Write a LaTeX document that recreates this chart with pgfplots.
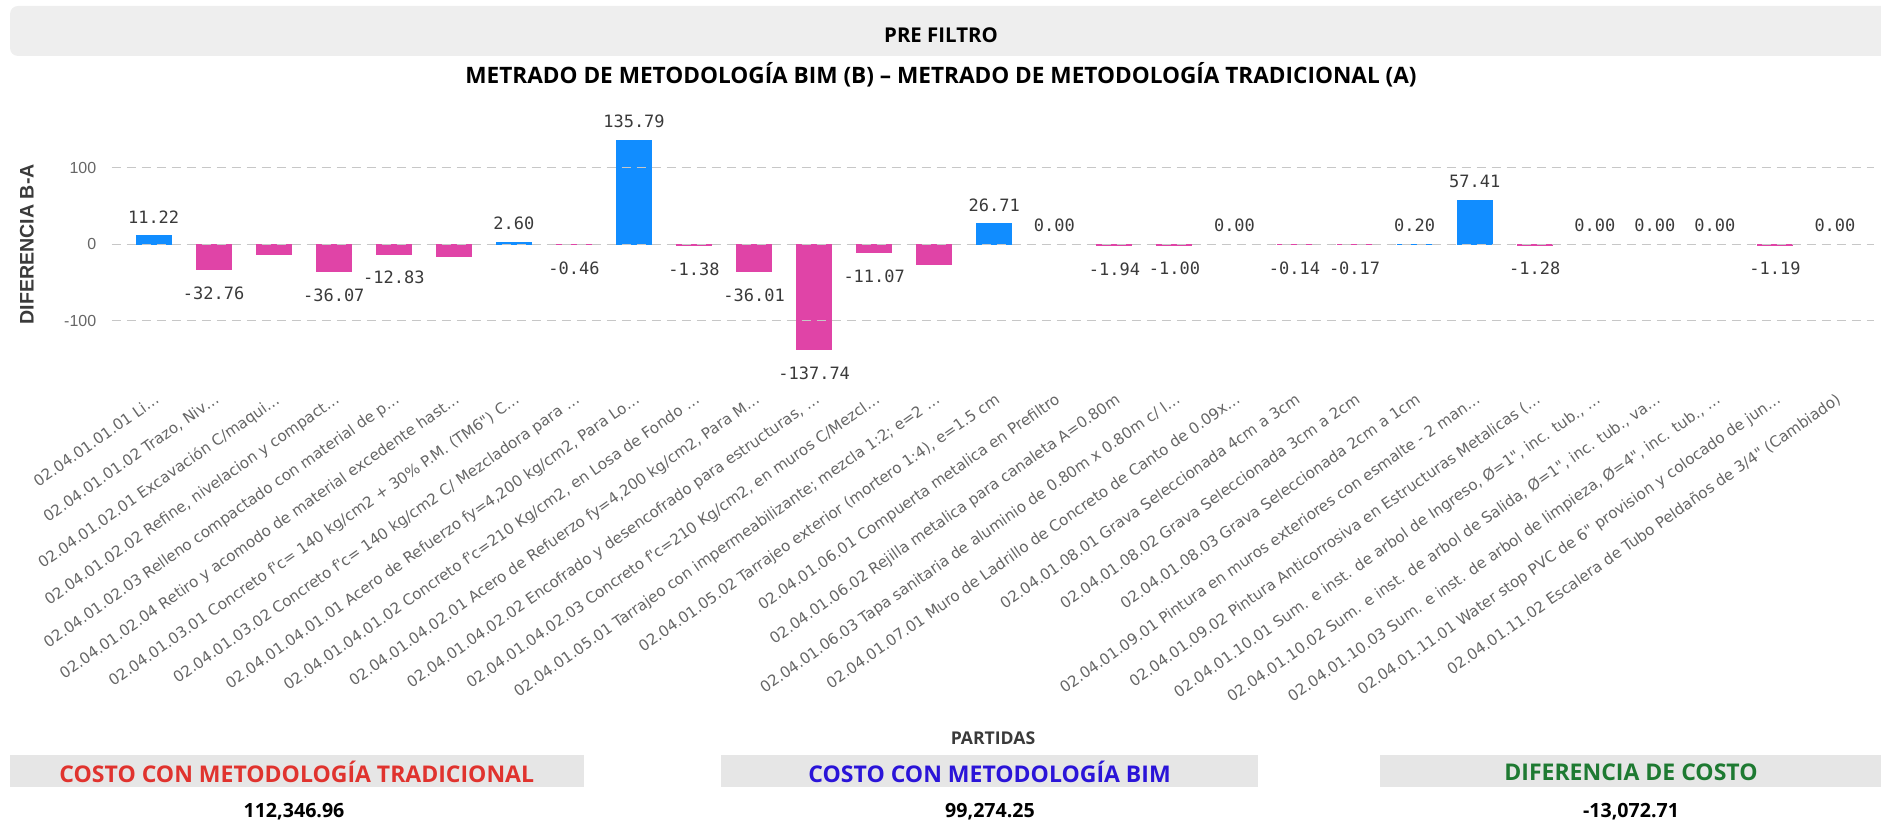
\documentclass[border=0pt]{standalone}
\usepackage{pgfplots}
\pgfplotsset{compat=1.18}
\usepackage{fontspec}
\setmainfont{Open Sans}
\newfontfamily\labf{DejaVu Sans Mono}
\newfontfamily\tickf{DejaVu Sans}
\newfontfamily\arialf{Liberation Sans}
\definecolor{pbblue}{HTML}{118DFF}
\definecolor{pbpink}{HTML}{E044A7}
\definecolor{labgray}{HTML}{3A3A3A}
\definecolor{tickgray}{HTML}{666666}
\definecolor{bannergray}{HTML}{EEEEEE}
\definecolor{boxgray}{HTML}{E6E6E6}
\definecolor{redt}{HTML}{E0332E}
\definecolor{bluet}{HTML}{2A14D8}
\definecolor{greent}{HTML}{1E7A32}
\begin{document}
\begin{tikzpicture}
\path[use as bounding box] (0pt,0pt) rectangle (940.5pt,-411pt);
% banner
\fill[bannergray, rounded corners=4pt] (5pt,-3pt) rectangle (945pt,-28pt);
\node[font=\bfseries\fontsize{10.2}{12}\selectfont, text=black] at (470.5pt,-17.5pt) {PRE FILTRO};
\node[font=\bfseries\fontsize{11.3}{13}\selectfont, text=black] at (470.5pt,-37.3pt) {METRADO DE METODOLOGÍA BIM (B) – METRADO DE METODOLOGÍA TRADICIONAL (A)};
% y label
\node[font=\arialf\bfseries\fontsize{9.8}{11}\selectfont, text=labgray, rotate=90] at (13.4pt,-122.15pt) {DIFERENCIA B-A};
\begin{axis}[
  at={(55.8pt,-196pt)}, anchor=south west,
  scale only axis, width=881.2pt, height=142.7pt,
  xmin=0.3, xmax=29.65, ymin=-193.1, ymax=180,
  axis line style={draw=none},
  major tick length=0pt,
  axis on top,
  ymajorgrids,
  grid style={dash pattern=on 4.5pt off 3pt, color=black!22, line width=0.6pt},
  ytick={-100,0,100},
  /pgf/number format/assume math mode=true,
  yticklabel style={font=\arialf\fontsize{8}{9}\selectfont, text=tickgray, inner sep=0pt, xshift=-7.5pt},
  xtick={1,2,3,4,5,6,7,8,9,10,11,12,13,14,15,16,17,18,19,20,21,22,23,24,25,26,27,28,29},
  xticklabels={
    {02.04.01.01.01 Li…},
    {02.04.01.01.02 Trazo, Niv…},
    {02.04.01.02.01 Excavación C/maqui…},
    {02.04.01.02.02 Refine, nivelacion y compact…},
    {02.04.01.02.03 Relleno compactado con material de p…},
    {02.04.01.02.04 Retiro y acomodo de material excedente hast…},
    {02.04.01.03.01 Concreto f'c= 140 kg/cm2 + 30\% P.M. (TM6") C…},
    {02.04.01.03.02 Concreto f'c= 140 kg/cm2 C/ Mezcladora para …},
    {02.04.01.04.01.01 Acero de Refuerzo fy=4,200 kg/cm2, Para Lo…},
    {02.04.01.04.01.02 Concreto f'c=210 Kg/cm2, en Losa de Fondo …},
    {02.04.01.04.02.01 Acero de Refuerzo fy=4,200 kg/cm2, Para M…},
    {02.04.01.04.02.02 Encofrado y desencofrado para estructuras, …},
    {02.04.01.04.02.03 Concreto f'c=210 Kg/cm2, en muros C/Mezcl…},
    {02.04.01.05.01 Tarrajeo con impermeabilizante; mezcla 1:2; e=2 …},
    {02.04.01.05.02 Tarrajeo exterior (mortero 1:4), e=1.5 cm},
    {02.04.01.06.01 Compuerta metalica en Prefiltro},
    {02.04.01.06.02 Rejilla metalica para canaleta A=0.80m},
    {02.04.01.06.03 Tapa sanitaria de aluminio de 0.80m x 0.80m c/ l…},
    {02.04.01.07.01 Muro de Ladrillo de Concreto de Canto de 0.09x…},
    {02.04.01.08.01 Grava Seleccionada 4cm a 3cm},
    {02.04.01.08.02 Grava Seleccionada 3cm a 2cm},
    {02.04.01.08.03 Grava Seleccionada 2cm a 1cm},
    {02.04.01.09.01 Pintura en muros exteriores con esmalte - 2 man…},
    {02.04.01.09.02 Pintura Anticorrosiva en Estructuras Metalicas (…},
    {02.04.01.10.01 Sum. e inst. de arbol de Ingreso, Ø=1", inc. tub., …},
    {02.04.01.10.02 Sum. e inst. de arbol de Salida, Ø=1", inc. tub., va…},
    {02.04.01.10.03 Sum. e inst. de arbol de limpieza, Ø=4", inc. tub., …},
    {02.04.01.11.01 Water stop PVC de 6" provision y colocado de jun…},
    {02.04.01.11.02 Escalera de Tubo Peldaños de 3/4" (Cambiado)}
  },
  xticklabel style={font=\tickf\fontsize{7.6}{9}\selectfont, text=tickgray, rotate=35, anchor=north east, inner sep=0pt},
]
% positive bars
\addplot[ybar, bar width=17.5pt, bar shift=0pt, fill=pbblue, draw=pbblue, line width=0.5pt] coordinates {
  (1,11.22) (7,2.60) (9,135.79) (15,26.71) (22,0.20) (23,57.41)
};
% negative bars
\addplot[ybar, bar width=17.5pt, bar shift=0pt, fill=pbpink, draw=pbpink, line width=0.5pt] coordinates {
  (2,-32.76) (3,-13.1) (4,-36.07) (5,-12.83) (6,-15.7) (8,-0.46) (10,-1.38) (11,-36.01)
  (12,-137.74) (13,-11.07) (14,-26.6) (17,-1.94) (18,-1.00) (20,-0.14) (21,-0.17)
  (24,-1.28) (28,-1.19)
};
% labels above
\addplot[draw=none, mark=none, point meta=explicit,
  nodes near coords={\pgfmathprintnumber[fixed,fixed zerofill,precision=2]{\pgfplotspointmeta}},
  every node near coord/.append style={font=\labf\fontsize{8.5}{10}\selectfont, text=labgray, anchor=center, yshift=9.35pt}]
  coordinates {
  (1,11.22) [11.22] (7,2.60) [2.60] (9,135.79) [135.79] (15,26.71) [26.71] (22,0.20) [0.20] (23,57.41) [57.41]
  (16,0) [0] (19,0) [0] (25,0) [0] (26,0) [0] (27,0) [0] (29,0) [0]
};
% labels below
\addplot[draw=none, mark=none, point meta=explicit,
  nodes near coords={\pgfmathprintnumber[fixed,fixed zerofill,precision=2]{\pgfplotspointmeta}},
  every node near coord/.append style={font=\labf\fontsize{8.5}{10}\selectfont, text=labgray, anchor=center, yshift=-11.75pt}]
  coordinates {
  (2,-32.76) [-32.76] (4,-36.07) [-36.07] (5,-12.83) [-12.83] (8,-0.46) [-0.46] (10,-1.38) [-1.38]
  (11,-36.01) [-36.01] (12,-137.74) [-137.74] (13,-11.07) [-11.07] (17,-1.94) [-1.94] (18,-1.00) [-1.00]
  (20,-0.14) [-0.14] (21,-0.17) [-0.17] (24,-1.28) [-1.28] (28,-1.19) [-1.19]
};
\end{axis}
% x label
\node[font=\bfseries\fontsize{8.8}{11}\selectfont, text=labgray] at (496.5pt,-369pt) {PARTIDAS};
% bottom boxes
\fill[boxgray] (4.8pt,-377.5pt) rectangle (292pt,-393.5pt);
\fill[boxgray] (360.5pt,-377.5pt) rectangle (629pt,-393.5pt);
\fill[boxgray] (690pt,-377.5pt) rectangle (945pt,-393.5pt);
\node[font=\bfseries\fontsize{11.5}{13}\selectfont, text=redt] at (148.4pt,-386pt) {COSTO CON METODOLOGÍA TRADICIONAL};
\node[font=\bfseries\fontsize{11.5}{13}\selectfont, text=bluet] at (494.8pt,-386pt) {COSTO CON METODOLOGÍA BIM};
\node[font=\bfseries\fontsize{11.5}{13}\selectfont, text=greent] at (815.5pt,-386pt) {DIFERENCIA DE COSTO};
\node[font=\bfseries\fontsize{9.8}{11}\selectfont, text=black] at (147pt,-406pt) {112,346.96};
\node[font=\bfseries\fontsize{9.8}{11}\selectfont, text=black] at (495pt,-406pt) {99,274.25};
\node[font=\bfseries\fontsize{9.8}{11}\selectfont, text=black] at (815.5pt,-406pt) {-13,072.71};
\end{tikzpicture}
\end{document}
